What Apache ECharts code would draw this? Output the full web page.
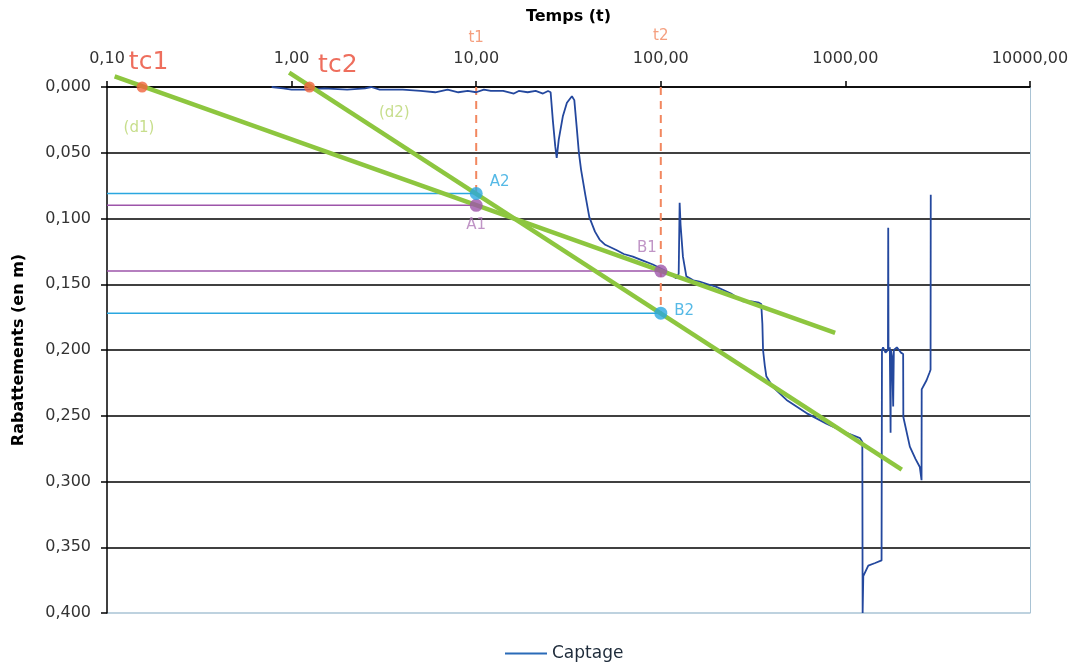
<!DOCTYPE html>
<html><head><meta charset="utf-8">
<script src="https://cdn.jsdelivr.net/npm/echarts@6/dist/echarts.min.js"></script>
<style>html,body{margin:0;padding:0;background:#fff}#c{width:1082px;height:664px}</style>
</head><body><div id="c"></div>
<script>
// ---- Data ----
const xTicks = [0.1, 1, 10, 100, 1000, 10000];
const yTicks = [0, 0.05, 0.1, 0.15, 0.2, 0.25, 0.3, 0.35, 0.4];
const captageT = [0.78,0.9,1.0,1.2,1.5,2.0,2.5,2.7,3.0,4.0,5.0,6.0,7.0,8.0,9.0,10,11,12,14,16,17,19,21,23,24.5,25.3,26.0,26.8,27.3,28.0,29.5,31.0,33.0,34.0,35.0,36.0,37.0,39.0,41.0,44.0,46.6,50,57.4,63,70.6,80,90.6,100,110,121,125,126.5,128,131.8,137.5,150,162,180,200,240,278,310,340,350,355,358,366,373,404,480,615,789,1014,1200,1222,1235,1240,1250,1330,1450,1570,1578,1600,1650,1700,1706,1712,1740,1757,1765,1790,1815,1830,1900,1950,2000,2055,2060,2234,2400,2530,2585,2590,2752,2850,2893,2900];
const captageS = [0.000,0.001,0.002,0.002,0.001,0.002,0.001,0.000,0.002,0.002,0.003,0.004,0.002,0.004,0.003,0.004,0.002,0.003,0.003,0.005,0.003,0.004,0.003,0.005,0.003,0.004,0.025,0.045,0.054,0.040,0.022,0.012,0.007,0.010,0.030,0.050,0.063,0.082,0.099,0.110,0.116,0.120,0.124,0.127,0.129,0.132,0.135,0.138,0.141,0.1455,0.142,0.088,0.105,0.129,0.144,0.147,0.148,0.150,0.152,0.157,0.163,0.163,0.164,0.165,0.180,0.200,0.212,0.220,0.228,0.238,0.248,0.256,0.263,0.267,0.268,0.270,0.400,0.372,0.364,0.362,0.360,0.200,0.198,0.202,0.200,0.107,0.200,0.198,0.263,0.200,0.205,0.243,0.200,0.198,0.200,0.202,0.203,0.251,0.2735,0.283,0.289,0.299,0.230,0.223,0.2175,0.215,0.082];
const d1T = [0.11, 880];
const d1S = [-0.008, 0.187];
const d2T = [0.97, 2020];
const d2S = [-0.011, 0.291];
const pointNames = ['A1','A2','B1','B2'];
const pointT = [10, 10, 100, 100];
const pointS = [0.090, 0.081, 0.140, 0.172];
const tcNames = ['tc1','tc2'];
const tcT = [0.155, 1.25];
const tcS = [0, 0];
const tLabels = ['t1','t2'];
const tLabelT = [10, 100];
const tLabelS = [-0.037, -0.039];
const tcLabelT = [0.168, 1.78];
const tcLabelS = [-0.019, -0.016];
const dLabels = ['(d1)','(d2)'];
const dLabelT = [0.149, 3.6];
const dLabelS = [0.031, 0.020];

const FONT = 'DejaVu Sans';
const fmtX = v => Number(v).toFixed(2).replace('.', ',');
const fmtY = v => Number(v).toFixed(3).replace('.', ',');
const BLUE = '#2aa7e0', PURPLE = '#9d55aa', ORANGE = '#f2875f', RED = '#ea4a35', GREEN = '#8dc63f';

const zip = (a, b) => a.map((v, i) => [v, b[i]]);

const series = [];
// horizontal reference lines
pointNames.forEach((n, i) => {
  series.push({type:'line', silent:true, showSymbol:false, animation:false, z:3,
    lineStyle:{color: n === 'A1' || n === 'B1' ? PURPLE : BLUE, width:1.5},
    data:[[xTicks[0], pointS[i]], [pointT[i], pointS[i]]]});
});
// dashed vertical lines t1 / t2
series.push({type:'line', silent:true, showSymbol:false, animation:false, z:3,
  lineStyle:{color:ORANGE, width:2, type:[8,6]}, data:[[10,0],[10,pointS[1]]]});
series.push({type:'line', silent:true, showSymbol:false, animation:false, z:3,
  lineStyle:{color:ORANGE, width:2, type:[8,6]}, data:[[100,0],[100,pointS[3]]]});
// data
series.push({name:'Captage', type:'line', showSymbol:false, animation:false, z:4,
  lineStyle:{color:'#24489e', width:1.8}, itemStyle:{color:'#2a6bb8'},
  data: zip(captageT, captageS)});
// green lines d1, d2
series.push({type:'line', silent:true, showSymbol:false, animation:false, clip:false, z:5,
  lineStyle:{color:GREEN, width:4.5}, data: zip(d1T, d1S)});
series.push({type:'line', silent:true, showSymbol:false, animation:false, clip:false, z:5,
  lineStyle:{color:GREEN, width:4.5}, data: zip(d2T, d2S)});
// points A1 A2 B1 B2
const labelPos = {A1:{position:'bottom', distance:6}, A2:{position:'right', offset:[2,-11]}, B1:{position:'top', offset:[-14,-4]}, B2:{position:'right', offset:[2,-2]}};
series.push({type:'scatter', silent:true, animation:false, z:6, symbolSize:13,
  data: pointNames.map((n, i) => ({value:[pointT[i], pointS[i]], name:n,
    itemStyle:{color: (n==='A1'||n==='B1') ? PURPLE : BLUE},
    label:Object.assign({show:true, formatter:n, fontSize:15, fontFamily:FONT,
      color:(n==='A1'||n==='B1') ? '#b07ab8' : BLUE}, labelPos[n])}))});
// tc points
series.push({type:'scatter', silent:true, animation:false, clip:false, z:6, symbolSize:11,
  itemStyle:{color:'#f0633c'}, data: zip(tcT, tcS)});
// text annotations
series.push({type:'scatter', silent:true, animation:false, clip:false, z:7, symbolSize:0,
  data: tcNames.map((n, i) => ({value:[tcLabelT[i], tcLabelS[i]],
    label:{show:true, position:'inside', formatter:n, fontSize:25, color:RED, fontFamily:FONT}}))
   .concat(tLabels.map((n, i) => ({value:[tLabelT[i], tLabelS[i]],
    label:{show:true, position:'inside', formatter:n, fontSize:15, color:ORANGE, fontFamily:FONT}})))
   .concat(dLabels.map((n, i) => ({value:[dLabelT[i], dLabelS[i]],
    label:{show:true, position:'inside', formatter:n, fontSize:15, color:'#b9d66f', fontFamily:FONT}})))
});

const chart = echarts.init(document.getElementById('c'), null, {renderer:'canvas'});
chart.setOption({
  backgroundColor:'#fff',
  animation:false,
  textStyle:{fontFamily:FONT},
  grid:{left:107, right:52, top:87, bottom:51, containLabel:false},
  legend:{data:['Captage'], left:500, top:640, itemWidth:42, itemHeight:2, itemGap:5,
    icon:'rect', textStyle:{fontSize:17, color:'#1e2b3a', fontFamily:FONT}},
  xAxis:{type:'log', logBase:10, min:xTicks[0], max:xTicks[xTicks.length-1], position:'top',
    name:'Temps (t)', nameLocation:'middle', nameGap:62,
    nameTextStyle:{fontWeight:'bold', fontSize:16, color:'#000', fontFamily:FONT},
    axisLine:{show:true, lineStyle:{color:'#000', width:1.5}},
    axisTick:{show:true, inside:false, length:6, lineStyle:{color:'#000', width:1.5}},
    minorTick:{show:false}, splitLine:{show:false},
    axisLabel:{formatter:fmtX, fontSize:16, color:'#333', margin:20, fontFamily:FONT}},
  yAxis:[{type:'value', inverse:true, min:0, max:0.4, interval:0.05,
    name:'Rabattements (en m)', nameLocation:'middle', nameGap:80, nameRotate:90,
    nameTextStyle:{fontWeight:'bold', fontSize:16, color:'#000', fontFamily:FONT},
    axisLine:{show:true, lineStyle:{color:'#000', width:1.5}},
    axisTick:{show:true, length:6, lineStyle:{color:'#000', width:1.5}},
    splitLine:{show:true, lineStyle:{color:['#000','#000','#000','#000','#000','#000','#000','#000','#a9c3d4'], width:1.5}},
    axisLabel:{formatter:fmtY, fontSize:16, color:'#333', margin:16, fontFamily:FONT}},
   {type:'value', inverse:true, min:0, max:0.4, interval:0.05, position:'right',
    axisLine:{show:true, lineStyle:{color:'#a9c3d4', width:1}}, axisTick:{show:false},
    axisLabel:{show:false}, splitLine:{show:false}}],
  series: series
});
</script></body></html>
